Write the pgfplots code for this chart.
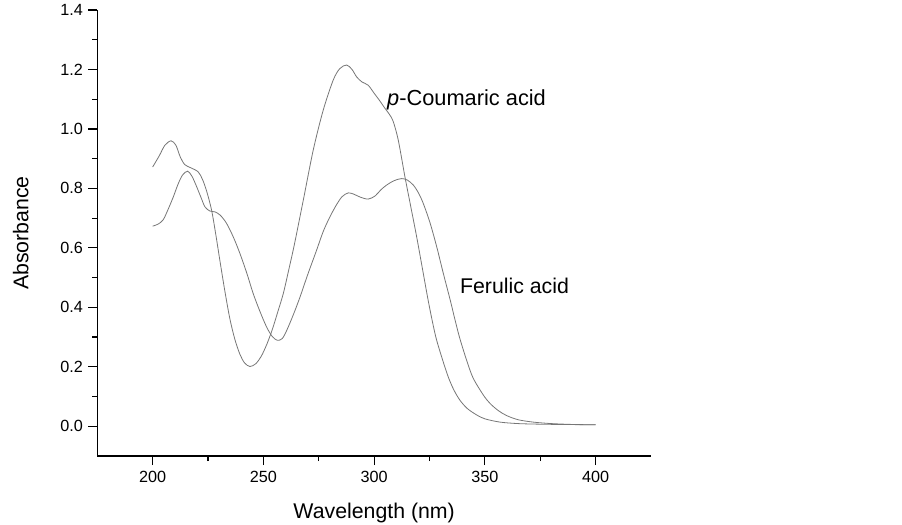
\documentclass[border=0pt]{standalone}
\usepackage{pgfplots}
\pgfplotsset{compat=1.18}
\usepackage{fontspec}
\setmainfont{Liberation Sans}

\definecolor{curve}{RGB}{118,118,118}

\begin{document}
\begin{tikzpicture}
\begin{axis}[name=ax,
  scale only axis, width=553.7bp, height=446bp,
  xmin=175, xmax=425, ymin=-0.1, ymax=1.4,
  axis lines=left, axis line style={line width=1.4bp, -},
  xtick={200,250,...,400}, minor x tick num=1,
  ytick={0,0.2,...,1.4}, minor y tick num=1,
  tick align=outside, tick style={line width=1.2bp, black},
  major tick length=9bp, minor tick length=5bp,
  yticklabel style={/pgf/number format/fixed, /pgf/number format/fixed zerofill, /pgf/number format/precision=1, xshift=-2bp},
  xticklabel style={yshift=-3bp},
  /pgf/number format/assume math mode=true,
  tick label style={font=\fontsize{16.2bp}{18bp}\selectfont},
  label style={font=\fontsize{21.3bp}{24bp}\selectfont},
  xlabel={Wavelength (nm)}, ylabel={Absorbance},
  xlabel style={at={([yshift=-62bp]rel axis cs:0.5,0)}, anchor=base},
  ylabel style={at={([xshift=-69bp]rel axis cs:0,0.5)}, anchor=base},
  clip=false]
% p-Coumaric acid
\addplot[curve, line width=0.8bp, smooth, tension=0.5] coordinates {
(200,0.872) (203,0.910) (205.5,0.945) (208.3,0.960) (210.5,0.945) (212.5,0.905)
(214.5,0.880) (217,0.870) (220.5,0.856) (222.5,0.830) (224.4,0.790) (226.6,0.727)
(228.5,0.645) (230.4,0.555) (232.7,0.450) (234.9,0.360) (237.2,0.290) (239.4,0.242)
(241.5,0.213) (243.9,0.201) (246.5,0.210) (249,0.235) (251.5,0.275) (254,0.325)
(256.5,0.385) (259,0.447) (261.5,0.528) (264,0.612) (268,0.760) (272.5,0.929)
(277,1.063) (281.5,1.164) (284.5,1.203) (287.6,1.215) (290,1.200) (292.1,1.175)
(294.5,1.158) (297.3,1.147) (300,1.120) (302.5,1.095) (304.9,1.069) (306.8,1.050)
(308.6,1.025) (310.9,0.962) (313.9,0.839) (316.5,0.740) (319.2,0.637) (321.8,0.530)
(324.4,0.423) (326.5,0.345) (328.2,0.290) (331,0.221) (333.5,0.165) (336,0.122)
(338.7,0.088) (342,0.060) (346.3,0.038) (350,0.025) (356.8,0.014) (365,0.009)
(375,0.007) (385,0.006) (400,0.005)
};
% Ferulic acid
\addplot[curve, line width=0.8bp, smooth, tension=0.5] coordinates {
(200,0.673) (202.5,0.680) (204.8,0.695) (207,0.730) (209.3,0.771) (211.5,0.815)
(213.5,0.845) (215.8,0.858) (217.8,0.840) (219.9,0.805) (221.8,0.770) (223.6,0.738)
(225.8,0.724) (228.1,0.721) (230.5,0.710) (233.4,0.682) (236.5,0.635) (239.4,0.581)
(242.5,0.515) (245.4,0.446) (248.5,0.385) (251.5,0.333) (254,0.302) (256.3,0.289)
(258.5,0.295) (260.5,0.322) (263.5,0.375) (266.5,0.434) (270,0.510) (274,0.592)
(277,0.655) (280,0.704) (283,0.745) (285.5,0.772) (288.3,0.785) (291,0.780)
(293.6,0.771) (297.3,0.764) (300.5,0.775) (303,0.795) (305.6,0.811) (309,0.826)
(312.4,0.833) (315,0.828) (317.7,0.811) (320,0.785) (322.2,0.749) (325.2,0.685)
(328.2,0.605) (331.2,0.515) (334.5,0.420) (336.5,0.358) (338.7,0.295) (341.8,0.221)
(344.7,0.162) (349.3,0.105) (352.3,0.077) (356,0.053) (359.8,0.036) (365,0.022)
(371.8,0.014) (380,0.009) (390,0.006) (400,0.005)
};
\node[anchor=base west, font=\fontsize{21.8bp}{24bp}\selectfont, inner sep=0pt] at (axis cs:305.8,1.080) {\textit{p}-Coumaric acid};
\node[anchor=base west, font=\fontsize{21.3bp}{24bp}\selectfont, inner sep=0pt] at (axis cs:338.7,0.447) {Ferulic acid};
\end{axis}
\pgfresetboundingbox
\path (ax.south west) ++(-97.3bp,-69bp) coordinate (bl);
\path (ax.north east) ++(251bp,10bp) coordinate (tr);
\path[use as bounding box] (bl) rectangle (tr);
\end{tikzpicture}
\end{document}
